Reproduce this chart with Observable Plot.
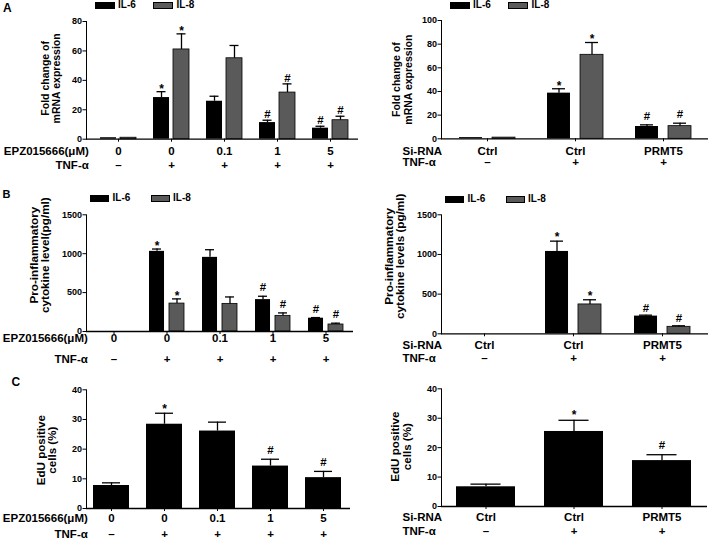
<!DOCTYPE html>
<html><head><meta charset="utf-8">
<script src="https://cdn.jsdelivr.net/npm/d3@7"></script>
<script src="https://cdn.jsdelivr.net/npm/@observablehq/plot@0.6"></script>
<style>
body{margin:0;background:#fff;}
#fig{position:relative;width:709px;height:542px;overflow:hidden;background:#fff;font-family:"Liberation Sans",Arial,sans-serif;font-weight:bold;color:#000;}
.cell{position:absolute;}
.lab{position:absolute;white-space:nowrap;line-height:1;}
.sw{position:absolute;box-sizing:border-box;}
</style></head><body><div id="fig"></div>
<script>
// ---------- data ----------
const series = ["IL-6", "IL-8"];
const seriesColors = ["#000000", "#5a5a5a"];
const doseLabels = ["0", "0", "0.1", "1", "5"];
const tnfLeft = ["–", "+", "+", "+", "+"];
const sirnaLabels = ["Ctrl", "Ctrl", "PRMT5"];
const tnfRight = ["–", "+", "+"];
const rowNameDose = "EPZ015666(μM)";
const rowNameSi = "Si-RNA";
const rowNameTnf = "TNF-α";
const panelLetters = ["A", "B", "C"];

// Panel A left: mRNA fold change
const aLeftIL6 = [1, 28.3, 25.8, 11.3, 7.5];
const aLeftIL6Err = [0, 4.0, 3.4, 1.6, 1.3];
const aLeftIL8 = [1, 61, 55, 31.7, 12.9];
const aLeftIL8Err = [0, 10.6, 8.7, 5.9, 2.7];
const aLeftSig6 = ["", "*", "", "#", "#"];
const aLeftSig8 = ["", "*", "", "#", "#"];
const aLeftTicks = [0, 20, 40, 60, 80];

// Panel A right
const aRightIL6 = [1, 38.6, 10.4];
const aRightIL6Err = [0, 3.7, 1.4];
const aRightIL8 = [1, 71, 10.7];
const aRightIL8Err = [0, 10.4, 2.5];
const aRightSig6 = ["", "*", "#"];
const aRightSig8 = ["", "*", "#"];
const aRightTicks = [0, 20, 40, 60, 80, 100];

// Panel B left: cytokine levels (pg/ml)
const bLeftIL6 = [0, 1030, 953, 410, 171];
const bLeftIL6Err = [0, 30, 98, 43, 8];
const bLeftIL8 = [0, 359, 355, 201, 90];
const bLeftIL8Err = [0, 60, 89, 38, 17];
const bLeftSig6 = ["", "*", "", "#", "#"];
const bLeftSig8 = ["", "*", "", "#", "#"];
const bTicks = [0, 500, 1000, 1500];

// Panel B right
const bRightIL6 = [0, 1038, 223];
const bRightIL6Err = [0, 130, 12];
const bRightIL8 = [0, 370, 88];
const bRightIL8Err = [0, 59, 13];
const bRightSig6 = ["", "*", "#"];
const bRightSig8 = ["", "*", "#"];

// Panel C: EdU positive cells (%)
const cLeft = [7.75, 28.4, 26.1, 14.3, 10.4];
const cLeftErr = [0.9, 3.7, 3.0, 2.3, 2.1];
const cLeftSig = ["", "*", "", "#", "#"];
const cRight = [6.7, 25.5, 15.6];
const cRightErr = [0.9, 3.8, 2.0];
const cRightSig = ["", "*", "#"];
const cTicks = [0, 10, 20, 30, 40];

const yLabelA = "Fold change of\nmRNA expression";
const yLabelBL = "Pro-inflammatory\ncytokine level(pg/ml)";
const yLabelBR = "Pro-inflammatory\ncytokine levels (pg/ml)";
const yLabelC = "EdU positive\ncells (%)";

// ---------- drawing ----------
const fig = document.getElementById("fig");
const FONT = '"Liberation Sans", Arial, sans-serif';

function panel(o) {
  const n = o.cats.length;
  const idx = d3.range(n);
  const m = o.values.length;
  const band = d3.scaleBand().domain(idx).range(o.range).paddingInner(o.pi).paddingOuter(o.po).bandwidth();
  const barW = m === 1 ? band : o.barW;
  const capW = o.capW;
  const marks = [];
  o.values.forEach((vals, k) => {
    const rows = idx.map(i => ({g: i, v: vals[i], e: o.errs[k][i], sig: o.sigs[k][i]}));
    const off = m === 1 ? 0 : (k === 0 ? -(band - barW) / 2 : (band - barW) / 2);
    const inL = m === 1 ? 0 : (k === 0 ? 0 : band - barW);
    const inR = m === 1 ? 0 : (k === 0 ? band - barW : 0);
    marks.push(Plot.barY(rows, {x: "g", y: "v", fill: o.colors[k], stroke: "#000", strokeWidth: k === 1 ? 0.8 : 0, insetLeft: inL, insetRight: inR}));
    const re = rows.filter(d => d.e > 0);
    marks.push(Plot.ruleX(re, {x: "g", y1: "v", y2: d => d.v + d.e, dx: off, stroke: "#000", strokeWidth: 1.3}));
    const cIn = barW / 2 - capW / 2, cOut = band - barW / 2 - capW / 2;
    const tl = m === 1 ? cIn : (k === 0 ? cIn : cOut);
    const tr = m === 1 ? cIn : (k === 0 ? cOut : cIn);
    marks.push(Plot.tickY(re, {x: "g", y: d => d.v + d.e, insetLeft: tl, insetRight: tr, stroke: "#000", strokeWidth: 1.3}));
    marks.push(Plot.text(rows.filter(d => d.sig === "*"), {x: "g", y: d => d.v + d.e, text: "sig", dx: off, dy: o.starDy, fontSize: 12, fontWeight: "bold"}));
    marks.push(Plot.text(rows.filter(d => d.sig === "#"), {x: "g", y: d => d.v + d.e, text: "sig", dx: off, dy: o.hashDy, fontSize: 11.5, fontWeight: "bold"}));
  });
  marks.push(Plot.ruleY([0], {stroke: "#000", strokeWidth: 1.3}));
  // category rows
  marks.push(Plot.text(o.cats, {x: (d, i) => i, text: d => d, frameAnchor: "bottom", dy: o.catDy, fontSize: 11.5, fontWeight: "bold"}));
  marks.push(Plot.text(o.tnf, {x: (d, i) => i, text: d => d, frameAnchor: "bottom", dy: o.tnfDy, fontSize: 11.5, fontWeight: "bold"}));
  marks.push(Plot.text([o.rowName], {text: d => d, frameAnchor: "bottom-left", textAnchor: o.rowAlign, dx: o.rowDx, dy: o.catDy, fontSize: 11.5, fontWeight: "bold"}));
  marks.push(Plot.text([rowNameTnf], {text: d => d, frameAnchor: "bottom-left", textAnchor: o.rowAlign, dx: o.rowDx, dy: o.tnfDy, fontSize: 11.5, fontWeight: "bold"}));
  // y label
  marks.push(Plot.text([o.ylabel], {text: d => d, frameAnchor: "left", textAnchor: "middle", lineAnchor: "middle", rotate: -90, dx: o.ylDx, dy: o.ylDy, fontSize: o.ylFont, lineHeight: o.ylLH, fontWeight: "bold"}));

  const chart = Plot.plot({
    width: o.width, height: o.height,
    marginLeft: o.ml, marginRight: o.mr, marginTop: o.mt, marginBottom: o.mb,
    style: {fontFamily: FONT, fontSize: "9px", fontWeight: "bold", background: "transparent", overflow: "visible", color: "#000"},
    x: {type: "band", domain: idx, range: o.range, paddingInner: o.pi, paddingOuter: o.po, tickSize: 3, tickFormat: () => "", label: null},
    y: {domain: o.yDomain, ticks: o.yTicks, tickFormat: d3.format("d"), tickSize: 3.5, tickPadding: 1, line: true, label: null},
    marks
  });
  const div = document.createElement("div");
  div.className = "cell";
  div.style.left = o.left + "px";
  div.style.top = o.top + "px";
  div.appendChild(chart);
  fig.appendChild(div);
}

function legend(swX, txtX, yc, swW, swH) {
  series.forEach((s, k) => {
    const sw = document.createElement("div");
    sw.className = "sw";
    sw.style.left = swX[k] + "px";
    sw.style.top = (yc - swH / 2) + "px";
    sw.style.width = swW + "px";
    sw.style.height = swH + "px";
    sw.style.background = seriesColors[k];
    sw.style.border = "1px solid #000";
    fig.appendChild(sw);
    const t = document.createElement("div");
    t.className = "lab";
    t.style.left = txtX[k] + "px";
    t.style.top = (yc - 5.2) + "px";
    t.style.fontSize = "10px";
    t.textContent = s;
    fig.appendChild(t);
  });
}

function letter(txt, x, y, fs) {
  const t = document.createElement("div");
  t.className = "lab";
  t.style.left = x + "px";
  t.style.top = y + "px";
  t.style.fontSize = fs + "px";
  t.textContent = txt;
  fig.appendChild(t);
}

// A left
panel({left: 0, top: 0, width: 360, height: 185, ml: 86, mr: 2, mt: 21, mb: 46.3,
  range: [90.4, 356.6], pi: 0.324, po: 0.162, barW: 16, capW: 9,
  cats: doseLabels, tnf: tnfLeft, rowName: rowNameDose, rowAlign: "end", rowDx: 2.3, catDy: 15.6, tnfDy: 30,
  values: [aLeftIL6, aLeftIL8], errs: [aLeftIL6Err, aLeftIL8Err], sigs: [aLeftSig6, aLeftSig8], colors: seriesColors,
  yDomain: [0, 80], yTicks: aLeftTicks,
  ylabel: yLabelA, ylFont: 10.5, ylLH: 1.05, ylDx: -36, ylDy: -2, starDy: -2.8, hashDy: -6});
// A right
panel({left: 355, top: 0, width: 354, height: 185, ml: 86, mr: 1, mt: 20, mb: 46.7,
  range: [87, 352.5], pi: 0.367, po: 0.1835, barW: 23, capW: 13,
  cats: sirnaLabels, tnf: tnfRight, rowName: rowNameSi, rowAlign: "start", rowDx: -39, catDy: 16, tnfDy: 27.4,
  values: [aRightIL6, aRightIL8], errs: [aRightIL6Err, aRightIL8Err], sigs: [aRightSig6, aRightSig8], colors: seriesColors,
  yDomain: [0, 100], yTicks: aRightTicks,
  ylabel: yLabelA, ylFont: 10.5, ylLH: 1.2, ylDx: -39.6, ylDy: 0, starDy: -3, hashDy: -8.5});
// B left
panel({left: 0, top: 185, width: 360, height: 185, ml: 86, mr: 7, mt: 29.3, mb: 39,
  range: [86.5, 351.5], pi: 0.34, po: 0.17, barW: 15, capW: 9,
  cats: doseLabels, tnf: tnfLeft, rowName: rowNameDose, rowAlign: "end", rowDx: 1.3, catDy: 10.8, tnfDy: 31,
  values: [bLeftIL6, bLeftIL8], errs: [bLeftIL6Err, bLeftIL8Err], sigs: [bLeftSig6, bLeftSig8], colors: seriesColors,
  yDomain: [0, 1500], yTicks: bTicks,
  ylabel: yLabelBL, ylFont: 11.7, ylLH: 0.95, ylDx: -46.5, ylDy: -18, starDy: -2.5, hashDy: -8.5});
// B right
panel({left: 355, top: 185, width: 354, height: 185, ml: 86, mr: 1, mt: 29.3, mb: 36.7,
  range: [84.5, 351.5], pi: 0.371, po: 0.1855, barW: 23, capW: 13,
  cats: sirnaLabels, tnf: tnfRight, rowName: rowNameSi, rowAlign: "start", rowDx: -39, catDy: 15, tnfDy: 28.4,
  values: [bRightIL6, bRightIL8], errs: [bRightIL6Err, bRightIL8Err], sigs: [bRightSig6, bRightSig8], colors: seriesColors,
  yDomain: [0, 1500], yTicks: bTicks,
  ylabel: yLabelBR, ylFont: 11.7, ylLH: 0.95, ylDx: -46.5, ylDy: -18, starDy: -4, hashDy: -7});
// C left
panel({left: 0, top: 370, width: 360, height: 172, ml: 86, mr: 10, mt: 19.3, mb: 34,
  range: [84.5, 349.5], pi: 0.321, po: 0.16, barW: 36, capW: 18,
  cats: doseLabels, tnf: tnfLeft, rowName: rowNameDose, rowAlign: "end", rowDx: 1.3, catDy: 13.7, tnfDy: 29.7,
  values: [cLeft], errs: [cLeftErr], sigs: [cLeftSig], colors: ["#000000"],
  yDomain: [0, 40], yTicks: cTicks,
  ylabel: yLabelC, ylFont: 11.6, ylLH: 0.95, ylDx: -39.5, ylDy: 1, starDy: -4.2, hashDy: -8.7});
// C right
panel({left: 355, top: 370, width: 354, height: 172, ml: 86, mr: 2, mt: 18.3, mb: 36,
  range: [86, 350], pi: 0.33, po: 0.165, barW: 59, capW: 30,
  cats: sirnaLabels, tnf: tnfRight, rowName: rowNameSi, rowAlign: "start", rowDx: -39, catDy: 14.7, tnfDy: 28,
  values: [cRight], errs: [cRightErr], sigs: [cRightSig], colors: ["#000000"],
  yDomain: [0, 40], yTicks: cTicks,
  ylabel: yLabelC, ylFont: 11.6, ylLH: 1.0, ylDx: -40, ylDy: -1, starDy: -5, hashDy: -9.3});

legend([94.5, 152.5], [118, 176.5], 5, 20, 7);
legend([449.5, 507.5], [473, 531.5], 5.2, 20, 7);
legend([90, 150.5], [112.5, 173], 198.3, 19, 7);
legend([445, 505.5], [467.5, 528], 199, 19, 7);
letter(panelLetters[0], 3, 2, 12);
letter(panelLetters[1], 2.5, 188.5, 11);
letter(panelLetters[2], 11.5, 375.5, 12);
</script></body></html>
